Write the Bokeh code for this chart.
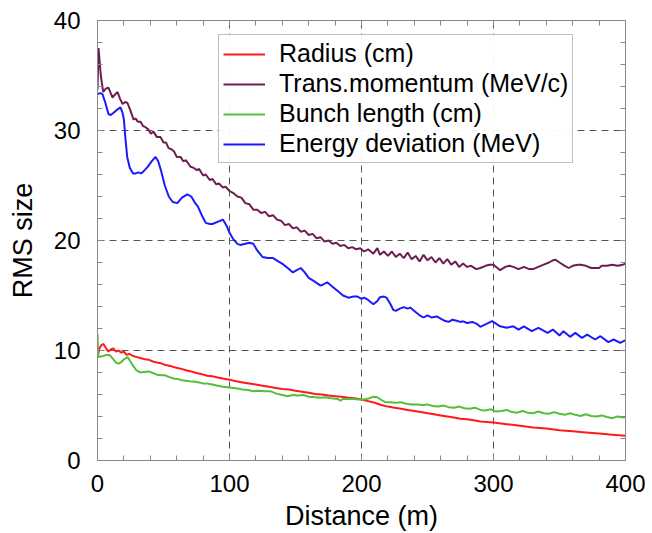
from bokeh.plotting import figure
from bokeh.models import Legend, LegendItem, LinearAxis, FixedTicker, Range1d
from bokeh.embed import file_html
from bokeh.resources import INLINE

# ---------------- data ----------------
rad_x = [0, 1.5, 3, 4.5, 6.5, 8.3, 10, 12, 14, 16,
         18, 20, 22, 24, 27, 30, 33, 36, 39, 42,
         45, 48, 51, 55, 59, 63, 67, 71, 75, 79,
         83, 87, 91, 95, 100, 105, 110, 115, 120, 125,
         130, 135, 140, 145, 150, 155, 160, 165, 170, 175,
         180, 185, 190, 195, 200, 205, 210, 215, 220, 225,
         230, 235, 240, 245, 250, 255, 260, 265, 270, 275,
         280, 285, 290, 295, 300, 310, 320, 330, 340, 350,
         360, 370, 380, 390, 400]
rad_y = [9.4, 10.2, 10.5, 10.6, 10.2, 9.9, 10.1, 10.2, 9.9, 10.0,
         9.8, 9.9, 9.6, 9.7, 9.5, 9.4, 9.3, 9.2, 9.15, 9.0,
         8.9, 8.85, 8.7, 8.6, 8.45, 8.35, 8.2, 8.1, 7.95, 7.85,
         7.7, 7.65, 7.55, 7.45, 7.35, 7.2, 7.1, 7.0, 6.9, 6.8,
         6.7, 6.6, 6.5, 6.45, 6.35, 6.25, 6.15, 6.05, 6.0, 5.9,
         5.85, 5.8, 5.7, 5.65, 5.55, 5.4, 5.25, 5.05, 4.9, 4.8,
         4.7, 4.6, 4.5, 4.4, 4.3, 4.2, 4.1, 4.0, 3.9, 3.8,
         3.75, 3.65, 3.55, 3.5, 3.45, 3.3, 3.15, 3.0, 2.9, 2.75,
         2.65, 2.55, 2.45, 2.35, 2.25]

tm_x = [0, 0.8, 2.5, 4.3, 6.3, 8.3, 10, 11.4, 13.5, 15.2,
        17, 19, 21, 22.7, 25, 27.3, 29, 30.5, 32.6, 34.5,
        36.4, 38.5, 40.5, 42.4, 45, 47.7, 50, 52, 53.8, 56,
        58, 60, 62.9, 65, 67, 70.5, 73, 75, 77, 80,
        82, 85, 87, 90, 92, 95, 97, 100, 103, 106,
        109, 112, 115, 118, 121, 124, 127, 130, 133, 136,
        139, 142, 145, 148, 151, 154, 157, 160, 163, 166,
        169, 172, 175, 178, 181, 184, 187, 190, 193, 196,
        199, 202, 205, 209, 212, 214, 217, 220, 223, 226,
        229, 232, 235, 238, 241, 244, 247, 250, 253, 256,
        259, 262, 265, 268, 271, 274, 277, 280, 283, 287,
        290, 294, 297, 300, 303, 305, 309, 312, 315, 319,
        323, 327, 330, 334, 338, 342, 345, 347, 350, 354,
        357, 360, 364, 366, 370, 374, 377, 380, 382, 386,
        390, 394, 398, 400]
tm_y = [33.7, 37.5, 35.0, 33.5, 33.8, 33.9, 33.4, 33.0, 33.3, 33.5,
        32.9, 32.4, 32.6, 32.5, 31.8, 31.0, 31.1, 30.8, 30.8, 30.4,
        30.3, 30.1, 29.7, 29.9, 29.4, 29.4, 28.9, 28.9, 28.4, 28.3,
        28.1, 27.6, 27.6, 27.2, 27.3, 26.7, 26.6, 26.4, 26.5, 25.9,
        26.0, 25.5, 25.6, 25.1, 25.2, 24.8, 24.9, 24.5, 24.3, 24.0,
        23.9, 23.4, 23.3, 22.8, 22.8, 22.5, 22.6, 22.2, 22.3, 21.9,
        21.8, 21.4, 21.5, 21.1, 21.2, 20.8, 20.9, 20.5, 20.6, 20.2,
        20.3, 19.9, 20.0, 19.7, 19.8, 19.5, 19.6, 19.3, 19.4, 19.2,
        19.3, 19.0, 19.2, 18.8, 19.3, 18.7, 19.0, 18.6, 19.0, 18.5,
        18.8, 18.4, 18.9, 18.3, 18.6, 18.1, 18.7, 18.2, 18.5, 18.0,
        18.4, 17.9, 18.3, 17.8, 18.1, 17.6, 17.9, 17.6, 17.7, 17.4,
        17.5, 17.7, 17.8, 17.8, 17.5, 17.3, 17.6, 17.7, 17.6, 17.4,
        17.6, 17.4, 17.4, 17.6, 17.8, 18.0, 18.2, 18.25, 18.0, 17.7,
        17.5, 17.7, 17.8, 17.8, 17.7, 17.5, 17.5, 17.5, 17.7, 17.7,
        17.8, 17.7, 17.8, 17.9]

bl_x = [0, 0.5, 2, 4.5, 6.5, 8.3, 10, 12, 14, 16,
        18, 20, 22.7, 25, 27, 29.5, 32.6, 35.5, 38.6, 42,
        45, 48, 51, 54, 57.6, 61, 64, 67, 70, 74,
        77, 80, 83, 87, 91, 95, 99, 103, 106, 110,
        114, 118, 122, 126, 131, 135, 140, 144, 148, 152,
        156, 160, 165, 169, 173, 177, 182, 184, 186, 190,
        194, 198, 202, 206, 209, 212, 215, 218, 222, 226,
        230, 234, 238, 242, 246, 250, 254, 258, 262, 266,
        270, 274, 278, 282, 286, 290, 294, 298, 302, 306,
        310, 314, 318, 322, 326, 330, 334, 338, 342, 346,
        350, 354, 358, 362, 366, 370, 374, 378, 382, 386,
        390, 394, 398, 400]
bl_y = [11.5, 9.4, 9.45, 9.5, 9.6, 9.6, 9.5, 9.2, 8.9, 8.8,
        8.95, 9.2, 9.4, 9.0, 8.6, 8.2, 8.0, 8.05, 8.1, 7.95,
        7.8, 7.75, 7.75, 7.6, 7.45, 7.4, 7.3, 7.25, 7.2, 7.15,
        7.1, 7.0, 7.0, 6.9, 6.8, 6.7, 6.65, 6.6, 6.55, 6.45,
        6.4, 6.3, 6.35, 6.3, 6.3, 6.1, 5.95, 5.85, 5.95, 5.9,
        5.95, 5.8, 5.75, 5.7, 5.75, 5.65, 5.6, 5.45, 5.6, 5.6,
        5.6, 5.55, 5.55, 5.65, 5.8, 5.75, 5.5, 5.3, 5.3, 5.25,
        5.3, 5.15, 5.1, 5.1, 5.05, 5.1, 4.95, 4.9, 5.0, 4.85,
        4.8, 4.9, 4.75, 4.7, 4.8, 4.6, 4.55, 4.65, 4.45, 4.5,
        4.6, 4.4, 4.35, 4.5, 4.35, 4.3, 4.45, 4.3, 4.25, 4.4,
        4.25, 4.15, 4.3, 4.15, 4.05, 4.2, 4.05, 4.0, 4.1, 3.95,
        3.85, 4.0, 3.9, 3.95]

ed_x = [0, 2, 3.8, 6, 8.3, 10, 12, 15, 17.4, 19,
        20, 21, 22.5, 24.5, 27, 29, 31, 33, 35, 38,
        41, 44, 46, 48, 51, 54, 57, 60.5, 64, 68,
        71, 74, 76, 79, 82, 85, 87, 91, 95, 98,
        100, 103, 106, 108, 112, 115, 118, 121, 125, 129,
        133, 137, 141, 145, 148, 151, 154, 157, 160, 164,
        169, 171, 174, 178, 182, 186, 190, 194, 197, 200,
        202, 205, 209, 212, 214, 217, 219, 222, 224, 226,
        229, 232, 235, 237, 240, 244, 247, 250, 253, 257,
        260, 263, 266, 269, 272, 275, 277, 280, 284, 287,
        290, 299, 305, 310, 315, 319, 323, 329, 334, 341,
        345, 350, 353, 358, 362, 367, 371, 377, 381, 387,
        391, 396, 400]
ed_y = [33.3, 33.4, 33.3, 32.5, 31.5, 31.4, 31.6, 31.9, 32.1, 31.6,
        31.0, 29.5, 27.6, 26.6, 26.1, 26.1, 26.2, 26.1, 26.3, 26.7,
        27.2, 27.6, 27.2, 26.4, 25.0, 24.0, 23.5, 23.4, 23.9, 24.2,
        24.0, 23.4, 23.1, 22.3, 21.6, 21.5, 21.5, 21.7, 21.9, 21.3,
        20.7, 20.1, 19.7, 19.6, 19.7, 19.8, 19.7, 19.1, 18.5, 18.4,
        18.4, 18.1, 17.8, 17.4, 17.1, 17.3, 17.5, 17.1, 16.6, 16.3,
        15.9, 16.0, 16.2, 15.8, 15.4, 15.0, 14.8, 14.9, 14.9, 14.7,
        14.8, 14.6, 14.2, 14.5, 14.85, 14.9, 14.8, 14.2, 13.7, 13.6,
        13.8, 13.95, 13.8, 13.9, 13.6, 13.2, 13.0, 13.2, 13.0, 13.1,
        12.9, 12.7, 12.6, 12.8, 12.7, 12.6, 12.65, 12.5, 12.6, 12.45,
        12.15, 12.67, 12.2, 12.06, 12.2, 11.9, 12.2, 11.76, 12.06, 11.6,
        11.9, 11.36, 11.76, 11.24, 11.6, 11.15, 11.45, 11.0, 11.3, 10.76,
        11.0, 10.7, 10.94]

labels = ["Radius (cm)", "Trans.momentum (MeV/c)", "Bunch length (cm)", "Energy deviation (MeV)"]
colors = ["#ff1a1a", "#6e1d50", "#55bf3b", "#1a1aff"]
x_ticks = [0, 100, 200, 300, 400]
y_ticks = [0, 10, 20, 30, 40]
x_minor = list(range(0, 401, 20))
y_minor = list(range(0, 41, 2))

FONT = "Liberation Sans"

p = figure(width=645, height=533, x_range=Range1d(0, 400), y_range=Range1d(0, 40),
           output_backend="svg", toolbar_location=None,
           min_border_left=97, min_border_top=20, min_border_right=20, min_border_bottom=72,
           x_axis_label="Distance (m)", y_axis_label="RMS size")
p.outline_line_color = "#888888"
p.outline_line_width = 1
p.background_fill_color = "white"
p.border_fill_color = "white"

for ax, tk, mn in ((p.xaxis[0], x_ticks, x_minor), (p.yaxis[0], y_ticks, y_minor)):
    ax.ticker = FixedTicker(ticks=tk, minor_ticks=mn)
    ax.axis_line_color = "#888888"
    ax.major_tick_line_color = "#888888"
    ax.minor_tick_line_color = "#888888"
    ax.major_tick_in = 6
    ax.major_tick_out = 0
    ax.minor_tick_in = 5
    ax.minor_tick_out = 0
    ax.major_label_text_font = FONT
    ax.major_label_text_font_size = "24px"
    ax.major_label_text_color = "black"
    ax.axis_label_text_font = FONT
    ax.axis_label_text_font_size = "27px"
    ax.axis_label_text_font_style = "normal"
    ax.axis_label_text_color = "black"

p.xaxis.major_label_standoff = 14
p.yaxis.major_label_standoff = 17
p.xaxis.axis_label_standoff = 6
p.yaxis.axis_label_standoff = 13

# mirrored tick marks on the top and right edges (no labels)
top = LinearAxis(ticker=FixedTicker(ticks=[], minor_ticks=x_minor))
right = LinearAxis(ticker=FixedTicker(ticks=[], minor_ticks=y_minor))
for ax in (top, right):
    ax.axis_line_color = "#888888"
    ax.minor_tick_line_color = "#888888"
    ax.minor_tick_in = 5
    ax.minor_tick_out = 0
    ax.major_label_standoff = 0
p.add_layout(top, "above")
p.add_layout(right, "right")

for g in (p.xgrid[0], p.ygrid[0]):
    g.grid_line_color = "#555555"
    g.grid_line_dash = "7 5"
    g.grid_line_width = 1
p.xgrid.ticker = FixedTicker(ticks=x_ticks)
p.ygrid.ticker = FixedTicker(ticks=y_ticks)

r1 = p.line(rad_x, rad_y, line_color=colors[0], line_width=2)
r2 = p.line(tm_x, tm_y, line_color=colors[1], line_width=2)
r3 = p.line(bl_x, bl_y, line_color=colors[2], line_width=2)
r4 = p.line(ed_x, ed_y, line_color=colors[3], line_width=2)

legend = Legend(items=[LegendItem(label=l, renderers=[r]) for l, r in zip(labels, [r1, r2, r3, r4])],
                location=(121, 297))
legend.border_line_color = "#808080"
legend.border_line_width = 1
legend.label_text_font = FONT
legend.label_text_font_size = "25px"
legend.label_text_color = "black"
legend.glyph_width = 42
legend.glyph_height = 20
legend.label_height = 20
legend.label_standoff = 14
legend.padding = 4
legend.spacing = 1
legend.margin = 0
p.add_layout(legend)

open("out.html", "w").write(file_html(p, INLINE))
